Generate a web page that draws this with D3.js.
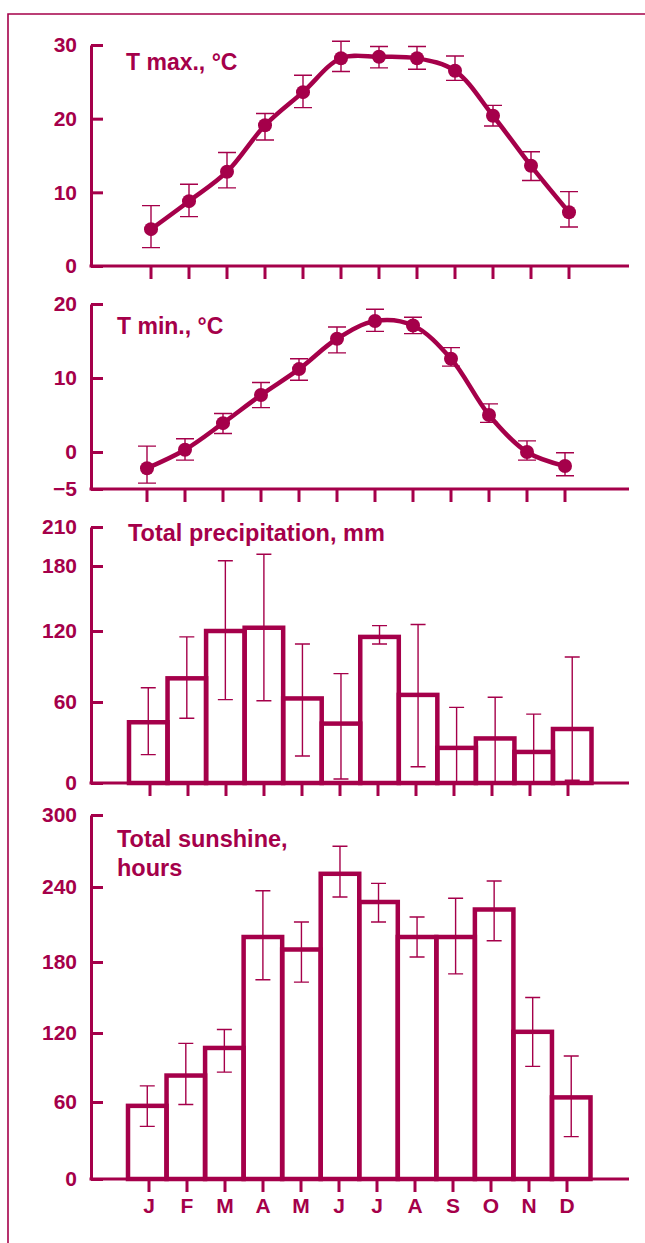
<!DOCTYPE html>
<html>
<head>
<meta charset="utf-8">
<script src="https://cdn.jsdelivr.net/npm/d3@7"></script>
<style>
  body { margin: 0; background: #fff; }
  svg text { font-family: "Liberation Sans", Arial, Helvetica, sans-serif; font-weight: bold; }
</style>
</head>
<body>
<div id="chart"></div>
<script>
// month labels
var months = ['J', 'F', 'M', 'A', 'M', 'J', 'J', 'A', 'S', 'O', 'N', 'D'];

// T max (mean, upper, lower)
var tmax   = [5.0, 8.8, 12.8, 19.1, 23.6, 28.2, 28.4, 28.2, 26.5, 20.4, 13.6, 7.3];
var tmaxHi = [8.2, 11.1, 15.4, 20.7, 25.9, 30.5, 29.8, 29.8, 28.5, 21.8, 15.5, 10.1];
var tmaxLo = [2.5, 6.7, 10.6, 17.1, 21.5, 26.4, 26.9, 26.7, 25.2, 19.0, 11.6, 5.3];

// T min
var tmin   = [-2.2, 0.3, 3.9, 7.7, 11.2, 15.3, 17.7, 17.1, 12.6, 5.0, 0.0, -1.9];
var tminHi = [0.8, 1.8, 5.2, 9.4, 12.6, 16.9, 19.3, 18.2, 14.1, 6.5, 1.5, -0.1];
var tminLo = [-4.2, -1.1, 2.5, 6.0, 9.7, 13.4, 16.3, 16.0, 11.6, 4.0, -1.1, -3.2];

// precipitation, mm
var precip   = [45, 80, 120, 123, 63, 44, 115, 66, 26, 33, 23, 40];
var precipHi = [72, 115, 184, 189, 109, 84, 125, 126, 56, 64, 51, 98];
var precipLo = [21, 48, 62, 61, 20, 3, 109, 12, 0, 0, 0, 2];

// sunshine, hours
var sun   = [57, 83, 107, 200, 190, 251, 228, 200, 200, 222, 121, 64];
var sunHi = [74, 111, 123, 237, 212, 274, 243, 216, 231, 245, 150, 100];
var sunLo = [41, 58, 86, 165, 163, 232, 212, 184, 170, 197, 91, 33];

var tmaxTicks = [0, 10, 20, 30];
var tminTicks = [-5, 0, 10, 20];
var precipTicks = [0, 60, 120, 180, 210];
var sunTicks = [0, 60, 120, 180, 240, 300];

var color = '#a5004a';
var W = 645, H = 1243;
var axisX = 91, axisEnd = 629;

var svg = d3.select('#chart').append('svg')
  .attr('width', W)
  .attr('height', H);

// outer frame (top and left only)
svg.append('path')
  .attr('d', 'M8,1243V14H645')
  .attr('fill', 'none')
  .attr('stroke', color)
  .attr('stroke-width', 1.6);

var makeX = function (shift) {
  return d3.scaleBand().domain(d3.range(12)).range([130 + shift, 586 + shift]).padding(0);
};

// the bars are a bit wider than the tick spacing
var makeBarX = function (shift) {
  return d3.scaleBand().domain(d3.range(12)).range([128 + shift, 590.5 + shift]).padding(0);
};

var drawAxes = function (g, x, y, ticks, bottomY, showMonths) {
  // y axis, ticks pointing inward
  var ya = g.append('g')
    .attr('transform', 'translate(' + axisX + ',0)')
    .call(d3.axisLeft(y).tickValues(ticks).tickSize(-12).tickSizeOuter(0).tickPadding(14));
  ya.selectAll('path, line').attr('stroke', color).attr('stroke-width', 3);
  ya.selectAll('text').attr('fill', color).style('font-size', '21px');

  // x axis line
  g.append('line')
    .attr('x1', axisX - 1.5).attr('x2', axisEnd)
    .attr('y1', bottomY).attr('y2', bottomY)
    .attr('stroke', color).attr('stroke-width', 3);

  var xa = g.append('g')
    .attr('transform', 'translate(0,' + bottomY + ')')
    .call(d3.axisBottom(x).tickSize(13).tickSizeOuter(0).tickPadding(6)
      .tickFormat(function (i) { return showMonths ? months[i] : ''; }));
  xa.select('.domain').remove();
  xa.selectAll('line').attr('stroke', color).attr('stroke-width', 3);
  xa.selectAll('text').attr('fill', color).style('font-size', '21px');
};

var drawErrors = function (g, x, y, hi, lo, capW) {
  var cx = function (d, i) { return x(i) + x.bandwidth() / 2; };
  var eb = g.append('g').attr('stroke', color).attr('stroke-width', 1.4).attr('fill', 'none');
  eb.selectAll('path').data(hi).enter().append('path')
    .attr('d', function (d, i) {
      var c = cx(d, i), t = y(d), b = y(lo[i]);
      return 'M' + (c - capW / 2) + ',' + t + 'H' + (c + capW / 2) +
             'M' + c + ',' + t + 'V' + b +
             'M' + (c - capW / 2) + ',' + b + 'H' + (c + capW / 2);
    });
};

var drawLinePanel = function (vals, hi, lo, y, ticks, shift, title, tx, ty) {
  var g = svg.append('g');
  var x = makeX(shift);
  var bottomY = y.range()[0];
  drawAxes(g, x, y, ticks, bottomY, false);
  drawErrors(g, x, y, hi, lo, 18);

  var line = d3.line()
    .x(function (d, i) { return x(i) + x.bandwidth() / 2; })
    .y(function (d) { return y(d); })
    .curve(d3.curveCatmullRom.alpha(0.5));

  g.append('path')
    .datum(vals)
    .attr('d', line)
    .attr('fill', 'none')
    .attr('stroke', color)
    .attr('stroke-width', 4.5);

  g.selectAll('circle').data(vals).enter().append('circle')
    .attr('cx', function (d, i) { return x(i) + x.bandwidth() / 2; })
    .attr('cy', function (d) { return y(d); })
    .attr('r', 7)
    .attr('fill', color);

  g.append('text')
    .attr('x', tx).attr('y', ty)
    .attr('fill', color)
    .style('font-size', '23px')
    .text(title);
};

var drawBarPanel = function (vals, hi, lo, y, ticks, shift, titles, tx, ty, showMonths) {
  var g = svg.append('g');
  var x = makeX(shift);
  var xb = makeBarX(shift);
  var bottomY = y.range()[0];
  drawAxes(g, x, y, ticks, bottomY, showMonths);

  g.selectAll('rect').data(vals).enter().append('rect')
    .attr('x', function (d, i) { return xb(i); })
    .attr('width', xb.bandwidth())
    .attr('y', function (d) { return y(d); })
    .attr('height', function (d) { return bottomY - y(d); })
    .attr('fill', 'none')
    .attr('stroke', color)
    .attr('stroke-width', 4.5);

  drawErrors(g, xb, y, hi, lo, 15);

  titles.forEach(function (t, k) {
    g.append('text')
      .attr('x', tx).attr('y', ty + k * 28.5)
      .attr('fill', color)
      .style('font-size', '23.5px')
      .text(t);
  });
};

var yTmax = d3.scaleLinear().domain([0, 30]).range([266, 45]);
var yTmin = d3.scaleLinear().domain([-5, 20]).range([489, 304]);
var yPrecip = d3.scaleLinear().domain([0, 60, 120, 180, 210]).range([783, 702, 631, 566, 527]);
var ySun = d3.scaleLinear().domain([0, 60, 120, 180, 240, 300]).range([1179, 1102, 1033, 962, 887, 815]);

drawLinePanel(tmax, tmaxHi, tmaxLo, yTmax, tmaxTicks, 2, 'T max., °C', 126, 70);
drawLinePanel(tmin, tminHi, tminLo, yTmin, tminTicks, -2, 'T min., °C', 117, 334);
drawBarPanel(precip, precipHi, precipLo, yPrecip, precipTicks, 1, ['Total precipitation, mm'], 128, 541, false);
drawBarPanel(sun, sunHi, sunLo, ySun, sunTicks, 0, ['Total sunshine,', 'hours'], 117, 847, true);
</script>
</body>
</html>
